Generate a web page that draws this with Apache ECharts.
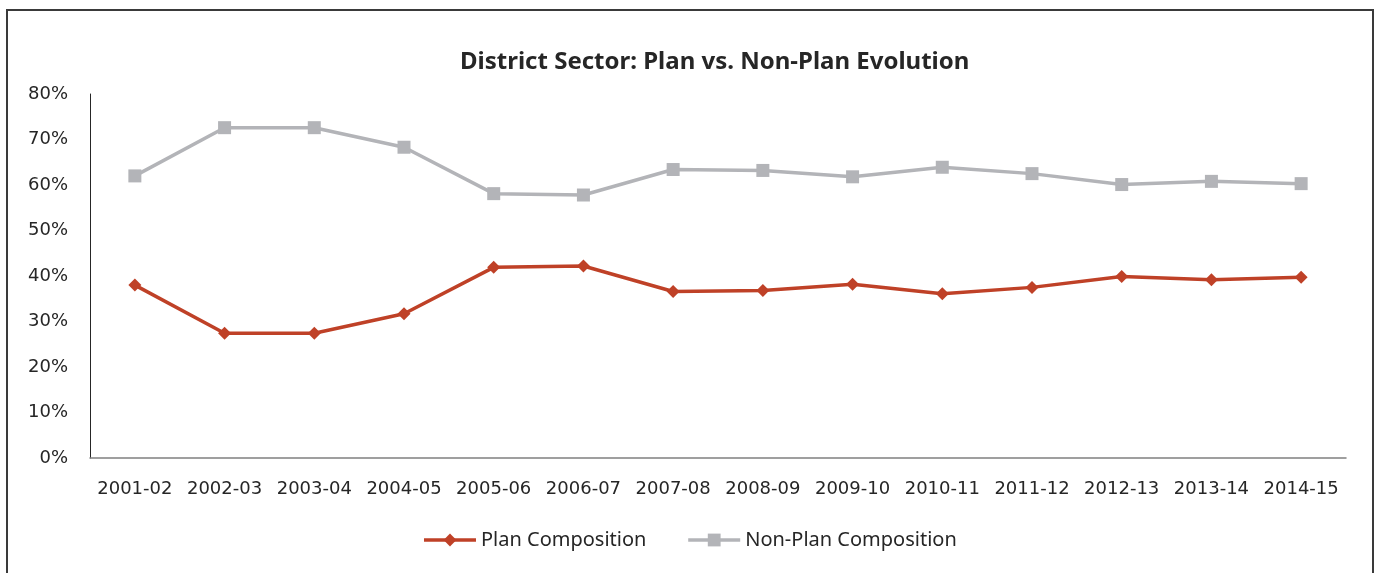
<!DOCTYPE html>
<html>
<head>
<meta charset="utf-8">
<script src="https://cdn.jsdelivr.net/npm/echarts@6/dist/echarts.min.js"></script>
<style>
html,body{margin:0;padding:0;background:#fff;}
#chart{width:1379px;height:573px;}
</style>
</head>
<body>
<div id="chart"></div>
<script>
var categories = ['2001-02','2002-03','2003-04','2004-05','2005-06','2006-07','2007-08','2008-09','2009-10','2010-11','2011-12','2012-13','2013-14','2014-15'];
var planComposition = [38.0, 27.4, 27.4, 31.7, 41.9, 42.2, 36.6, 36.8, 38.2, 36.1, 37.5, 39.9, 39.2, 39.7];
var nonPlanComposition = [62.0, 72.6, 72.6, 68.3, 58.1, 57.8, 63.4, 63.2, 61.8, 63.9, 62.5, 60.1, 60.8, 60.3];
var seriesNames = ['Plan Composition', 'Non-Plan Composition'];
var titleText = 'District Sector: Plan vs. Non-Plan Evolution';

var chart = echarts.init(document.getElementById('chart'));
var tickFont = '"DejaVu Sans", sans-serif';
var legendFont = '"Noto Sans", "Open Sans", sans-serif';
chart.setOption({
  animation: false,
  backgroundColor: '#fff',
  graphic: [{
    type: 'rect',
    shape: {x: 7, y: 10, width: 1366, height: 600},
    style: {fill: 'none', stroke: '#3a3a3a', lineWidth: 2},
    silent: true
  }],
  title: {
    text: titleText,
    left: 455,
    top: 45,
    textStyle: {
      fontFamily: '"Noto Sans", sans-serif',
      fontWeight: 'bold',
      fontSize: 24,
      color: '#262626'
    }
  },
  legend: {
    bottom: 18,
    left: 'center',
    itemGap: 40,
    itemWidth: 52,
    itemHeight: 16,
    lineStyle: {width: 3.5},
    textStyle: {fontFamily: legendFont, fontSize: 20, color: '#262626'},
    data: seriesNames
  },
  grid: {left: 90, right: 33, top: 94, bottom: 115, containLabel: false},
  xAxis: {
    type: 'category',
    data: categories,
    boundaryGap: true,
    axisLine: {lineStyle: {color: '#808080', width: 1.5}},
    axisTick: {show: false},
    axisLabel: {fontFamily: tickFont, fontSize: 18, color: '#262626', margin: 22, interval: 0}
  },
  yAxis: {
    type: 'value',
    min: 0,
    max: 80,
    interval: 10,
    splitLine: {show: false},
    axisLine: {show: true, lineStyle: {color: '#262626', width: 1}},
    axisTick: {show: false},
    axisLabel: {fontFamily: tickFont, fontSize: 18, color: '#262626', margin: 22, formatter: '{value}%'}
  },
  series: [
    {
      name: seriesNames[0],
      type: 'line',
      data: planComposition,
      symbol: 'diamond',
      symbolSize: 13,
      lineStyle: {color: '#BF4127', width: 3.5},
      itemStyle: {color: '#BF4127'}
    },
    {
      name: seriesNames[1],
      type: 'line',
      data: nonPlanComposition,
      symbol: 'rect',
      symbolSize: 13,
      lineStyle: {color: '#B3B4B8', width: 3.5},
      itemStyle: {color: '#B3B4B8'}
    }
  ]
});
</script>
</body>
</html>
